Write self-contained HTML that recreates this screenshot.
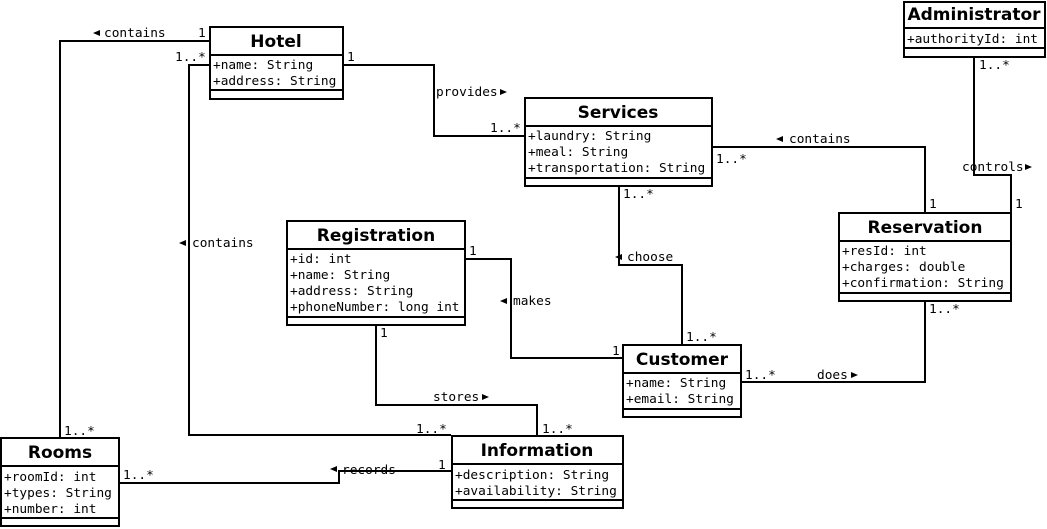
<!DOCTYPE html>
<html><head><meta charset="utf-8"><style>
html,body{margin:0;padding:0;background:#fff;}
svg{display:block;}
.t{font-family:"DejaVu Sans","Liberation Sans",sans-serif;font-weight:bold;font-size:17px;text-anchor:middle;}
.a{font-family:"DejaVu Sans Mono","Liberation Mono",monospace;font-size:12.8px;}
.l{font-family:"DejaVu Sans Mono","Liberation Mono",monospace;font-size:12.8px;}
</style></head><body>
<svg width="1047" height="529" viewBox="0 0 1047 529" xmlns="http://www.w3.org/2000/svg">
<g fill="none" stroke="#000" stroke-width="2">
<polyline points="209,41 60,41 60,437"/>
<polyline points="209,65 189,65 189,435 451,435"/>
<polyline points="343,65 434,65 434,136 524,136"/>
<polyline points="712,147 925,147 925,212"/>
<polyline points="974,57 974,175 1011,175 1011,212"/>
<polyline points="619,186 619,265 682,265 682,344"/>
<polyline points="465,259 511,259 511,358 622,358"/>
<polyline points="376,325 376,405 537,405 537,435"/>
<polyline points="741,382 925,382 925,301"/>
<polyline points="119,483 339,483 339,471 451,471"/>
<rect x="210" y="27" width="133" height="72" fill="#fff"/><line x1="210" y1="55" x2="343" y2="55"/><line x1="210" y1="90" x2="343" y2="90"/>
<rect x="904" y="2" width="141" height="55" fill="#fff"/><line x1="904" y1="28" x2="1045" y2="28"/><line x1="904" y1="48" x2="1045" y2="48"/>
<rect x="525" y="98" width="187" height="88" fill="#fff"/><line x1="525" y1="126" x2="712" y2="126"/><line x1="525" y1="178" x2="712" y2="178"/>
<rect x="287" y="221" width="178" height="104" fill="#fff"/><line x1="287" y1="249" x2="465" y2="249"/><line x1="287" y1="317" x2="465" y2="317"/>
<rect x="839" y="213" width="172" height="88" fill="#fff"/><line x1="839" y1="241" x2="1011" y2="241"/><line x1="839" y1="293" x2="1011" y2="293"/>
<rect x="623" y="345" width="118" height="72" fill="#fff"/><line x1="623" y1="373" x2="741" y2="373"/><line x1="623" y1="409" x2="741" y2="409"/>
<rect x="1" y="438" width="118" height="88" fill="#fff"/><line x1="1" y1="466" x2="119" y2="466"/><line x1="1" y1="518" x2="119" y2="518"/>
<rect x="452" y="436" width="171" height="72" fill="#fff"/><line x1="452" y1="464" x2="623" y2="464"/><line x1="452" y1="500" x2="623" y2="500"/>
</g>
<g>
<text class="t" x="276" y="47">Hotel</text>
<text class="a" x="213" y="69">+name: String</text><text class="a" x="213" y="85">+address: String</text>
<text class="t" x="974" y="20">Administrator</text>
<text class="a" x="907" y="43">+authorityId: int</text>
<text class="t" x="618" y="118">Services</text>
<text class="a" x="528" y="140">+laundry: String</text><text class="a" x="528" y="156">+meal: String</text><text class="a" x="528" y="172">+transportation: String</text>
<text class="t" x="376" y="241">Registration</text>
<text class="a" x="290" y="263">+id: int</text><text class="a" x="290" y="279">+name: String</text><text class="a" x="290" y="295">+address: String</text><text class="a" x="290" y="311">+phoneNumber: long int</text>
<text class="t" x="925" y="233">Reservation</text>
<text class="a" x="842" y="255">+resId: int</text><text class="a" x="842" y="271">+charges: double</text><text class="a" x="842" y="287">+confirmation: String</text>
<text class="t" x="682" y="365">Customer</text>
<text class="a" x="626" y="387">+name: String</text><text class="a" x="626" y="403">+email: String</text>
<text class="t" x="60" y="458">Rooms</text>
<text class="a" x="4" y="481">+roomId: int</text><text class="a" x="4" y="497">+types: String</text><text class="a" x="4" y="513">+number: int</text>
<text class="t" x="537" y="456">Information</text>
<text class="a" x="455" y="479">+description: String</text><text class="a" x="455" y="495">+availability: String</text>
</g>
<g class="l">
<text x="104" y="37">contains</text><text x="198" y="37">1</text><text x="175" y="61">1..*</text>
<text x="347" y="61">1</text>
<text x="436" y="96">provides</text><text x="490" y="132">1..*</text>
<text x="789" y="143">contains</text><text x="716" y="163">1..*</text>
<text x="979" y="69">1..*</text><text x="962" y="171">controls</text>
<text x="929" y="208">1</text><text x="1015" y="208">1</text>
<text x="623" y="198">1..*</text><text x="627" y="261">choose</text>
<text x="192" y="247">contains</text>
<text x="469" y="255">1</text><text x="513" y="305">makes</text><text x="612" y="355">1</text>
<text x="686" y="341">1..*</text>
<text x="380" y="337">1</text><text x="433" y="401">stores</text>
<text x="745" y="379">1..*</text><text x="817" y="379">does</text><text x="929" y="313">1..*</text>
<text x="64" y="435">1..*</text><text x="416" y="433">1..*</text><text x="542" y="433">1..*</text>
<text x="123" y="479">1..*</text><text x="342" y="474">records</text><text x="438" y="469">1</text>
</g>
<g fill="#000">
<polygon points="93,33 100,30 100,36"/>
<polygon points="507,92 500,89 500,95"/>
<polygon points="776,139 783,136 783,142"/>
<polygon points="1032,167 1025,164 1025,170"/>
<polygon points="615,257 622,254 622,260"/>
<polygon points="179,243 186,240 186,246"/>
<polygon points="500,301 507,298 507,304"/>
<polygon points="489,397 482,394 482,400"/>
<polygon points="858,375 851,372 851,378"/>
<polygon points="330,469 337,466 337,472"/>
</g>
</svg>
</body></html>
